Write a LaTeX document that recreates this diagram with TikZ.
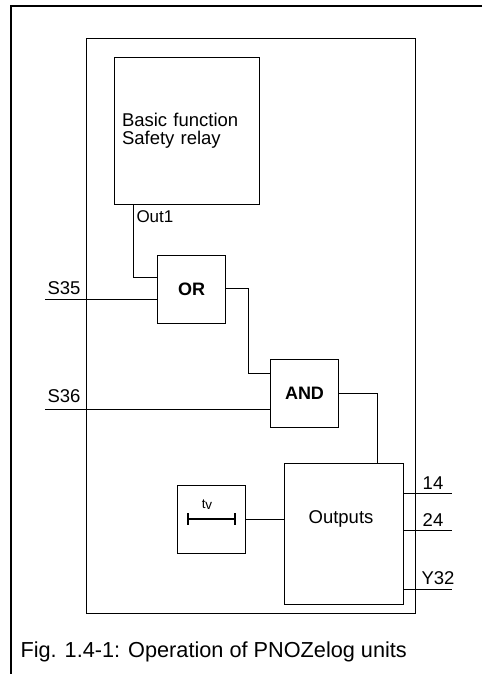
\documentclass[tikz,border=0pt]{standalone}
\usepackage{fontspec}
\setmainfont{Liberation Sans}
\usetikzlibrary{calc}
\begin{document}
\begin{tikzpicture}[x=1pt,y=-1pt,
  line width=1pt,
  blk/.style={draw, line width=1pt, inner sep=0pt, anchor=north west},
  lbl/.style={inner sep=0pt, font=\fontsize{18.5}{20}\selectfont},
  wire/.style={draw, line width=1pt}
]
\useasboundingbox (0,0) rectangle (482,674);
% outer frame (top and left only)
\coordinate (fa) at (482,6);
\coordinate (fb) at (11,6);
\coordinate (fc) at (11,674);
\draw[line width=1.2pt] (fa) -- (fb) -- (fc);
% main unit box
\node[blk, minimum width=329pt, minimum height=575pt] (main) at (86,38) {};
% basic function box
\node[blk, minimum width=145pt, minimum height=147pt, text width=130pt, inner xsep=7.5pt, align=left,
      font=\fontsize{18.5}{18}\selectfont] (basic) at (114,57) {Basic function\\Safety relay};
% OR, AND
\node[blk, minimum width=68pt, minimum height=68pt, font=\bfseries\fontsize{18}{20}\selectfont] (or) at (157,255) {OR};
\node[blk, minimum width=68pt, minimum height=68pt, font=\bfseries\fontsize{18}{20}\selectfont] (and) at (270,359) {AND};
% outputs
\node[blk, minimum width=119pt, minimum height=141pt] (outputs) at (284,463) {};
\node[lbl] (outtxt) at (341,519) {Outputs};
% tv box
\node[blk, minimum width=68pt, minimum height=68pt] (tv) at (177,485) {};
\node[inner sep=0pt, font=\fontsize{13.5}{14}\selectfont] (tvl) at (207,505) {t\kern-0.3pt\raisebox{-1pt}{v}};
\coordinate (tva) at (188,519);
\coordinate (tvb) at (235,519);
\draw[line width=1.6pt] (tva) -- (tvb);
\draw[line width=1.6pt] ($(tva)+(0,-6)$) -- ($(tva)+(0,6)$);
\draw[line width=1.6pt] ($(tvb)+(0,-6)$) -- ($(tvb)+(0,6)$);
% connectors
\draw[wire] ([xshift=19pt]basic.south west) |- ([yshift=-22pt]or.north west);
\node[lbl, anchor=west, font=\fontsize{17}{18}\selectfont] (out1) at (136,217) {Out1};
\coordinate (s35) at (45,299);
\coordinate (s36) at (45,409);
\draw[wire] (s35) -- (s35 -| or.west);
\draw[wire] (s36) -- (s36 -| and.west);
\node[lbl] (s35l) at (64,288) {S35};
\node[lbl] (s36l) at (64,396) {S36};
\draw[wire] ([yshift=1pt]or.east) -- ++(22,0) |- ([yshift=-14pt]and.north west);
\draw[wire] (and.east) -| ([xshift=-27pt]outputs.north east);
\draw[wire] (tv.east) -- (tv.east -| outputs.west);
\coordinate (o14) at (452,493);
\coordinate (o24) at (452,530);
\coordinate (o32) at (452,589);
\draw[wire] (o14 -| outputs.east) -- (o14);
\draw[wire] (o24 -| outputs.east) -- (o24);
\draw[wire] (o32 -| outputs.east) -- (o32);
\node[lbl] (l14) at (433,483) {14};
\node[lbl] (l24) at (433,520) {24};
\node[lbl] (l32) at (438,578) {Y32};
% caption
\node[inner sep=0pt, anchor=west, font=\fontsize{21.7}{24}\selectfont] (cap) at (20,652) {Fig. 1.4-1: Operation of PNOZelog units};
\end{tikzpicture}
\end{document}
